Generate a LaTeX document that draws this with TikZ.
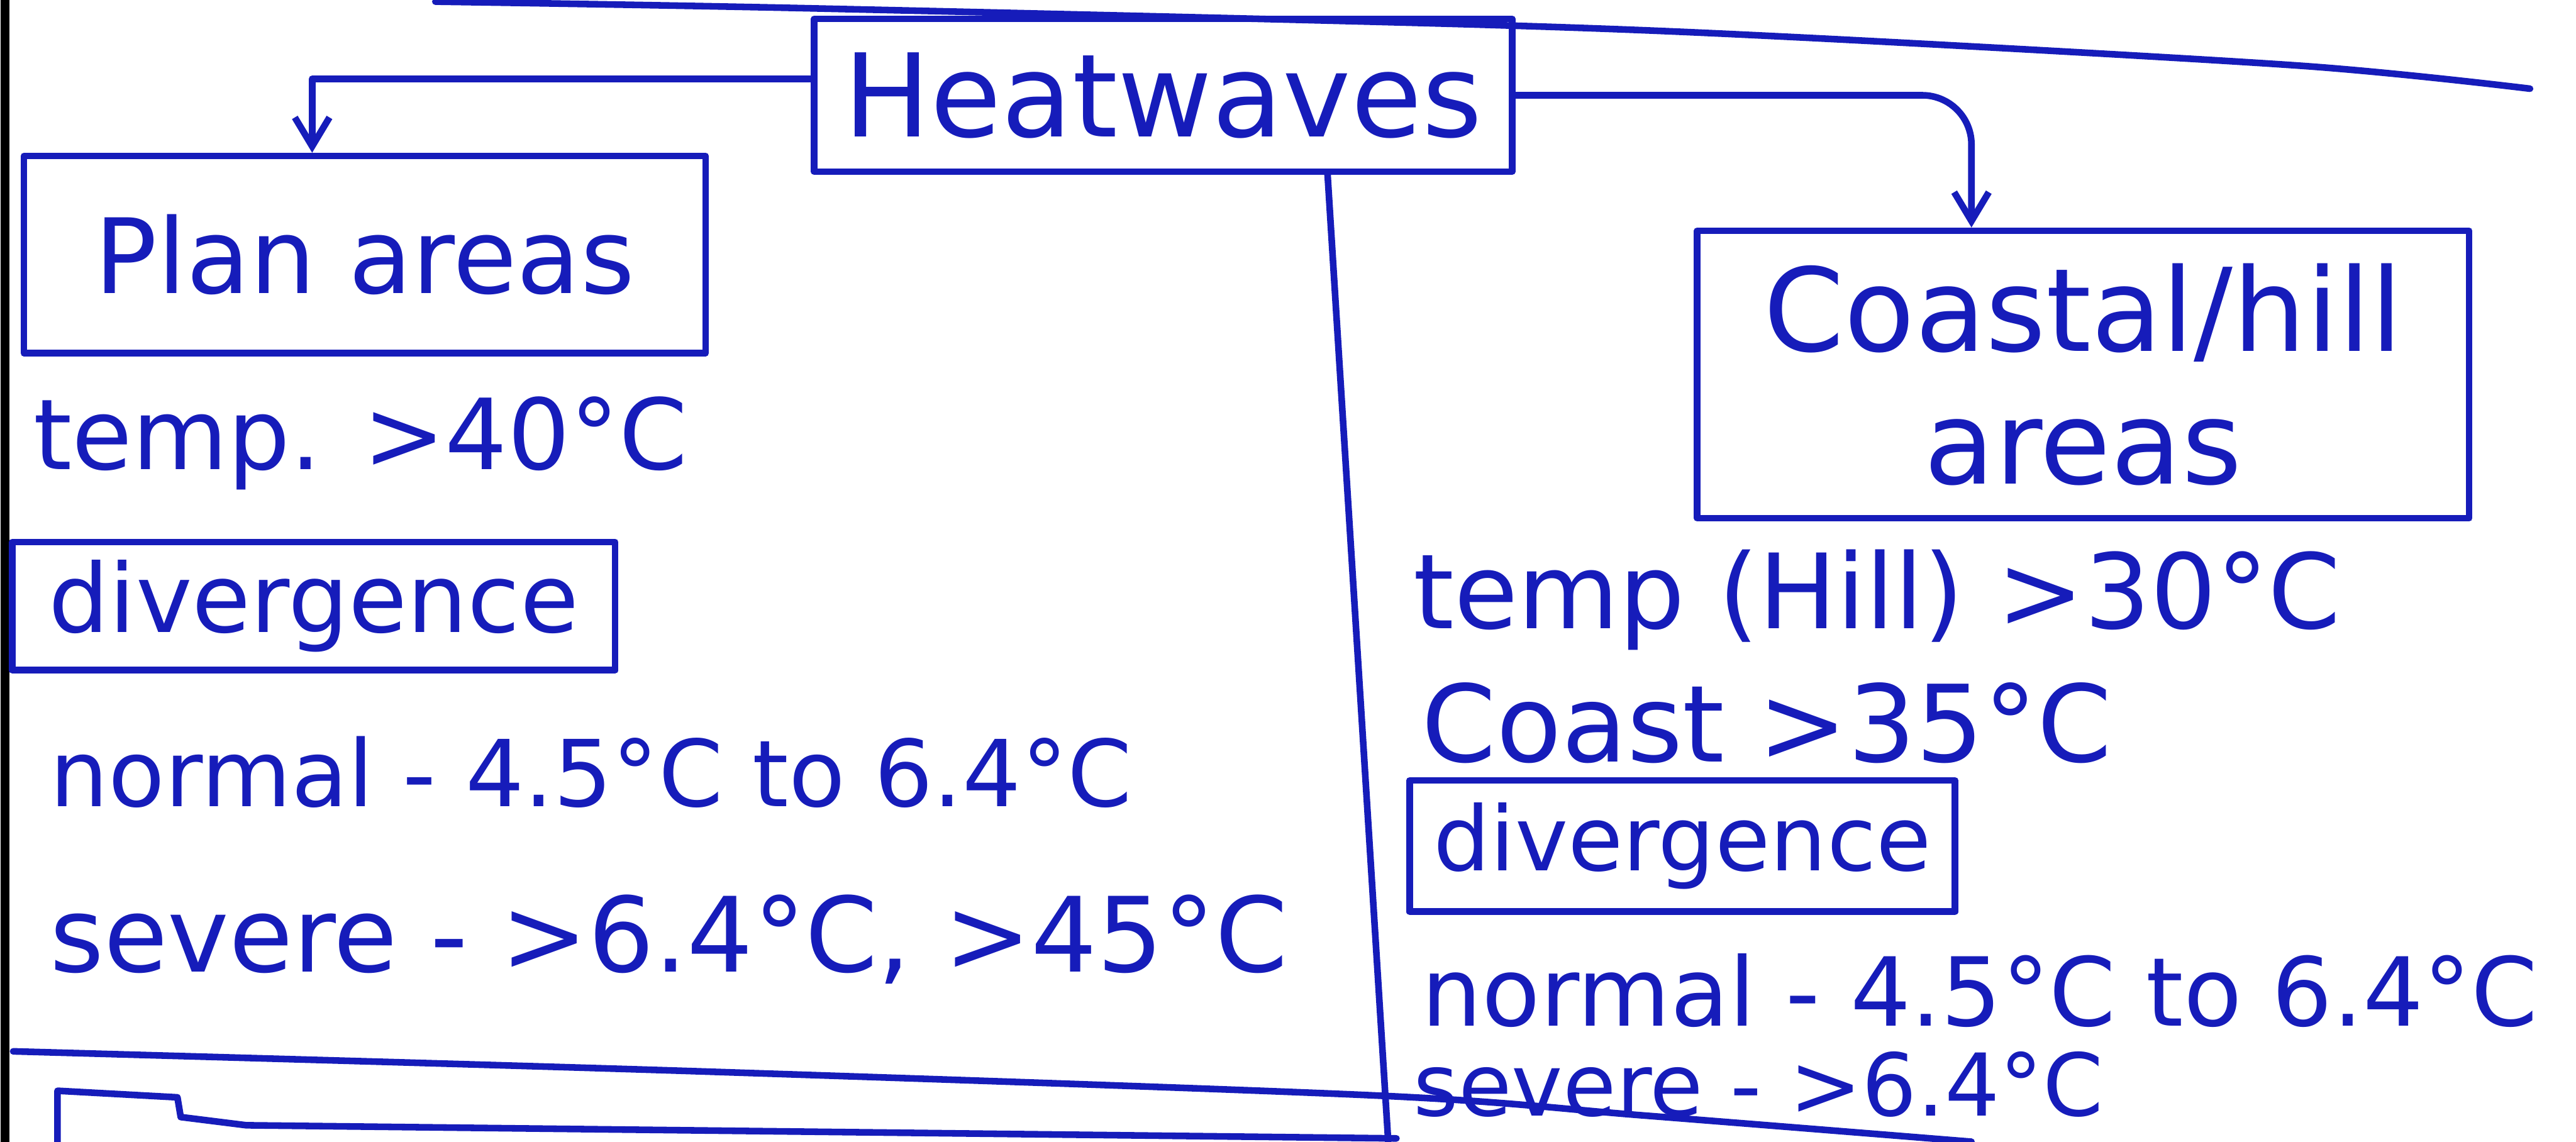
\documentclass[tikz,border=0pt]{standalone}
\usepackage{fontspec}
\setmainfont{DejaVu Sans}
\usetikzlibrary{positioning,arrows.meta}
\definecolor{ink}{RGB}{22,28,186}

\tikzset{
	pen/.style={draw=ink, line width=2.3pt, line cap=round, line join=round},
	box/.style={pen, text=ink, inner sep=0pt, align=center},
	note/.style={text=ink, anchor=west, inner sep=0pt, font=\fontsize{34}{40}\selectfont},
	link/.style={pen, -{Straight Barb[length=10pt,width=12pt]}},
}

\begin{document}
\begin{tikzpicture}[x=0.02cm, y=-0.02cm]
	\fill[white] (0,0) rectangle (1568,695);
	\useasboundingbox (0,0) rectangle (1568,695);
	% margin and page rules
	\draw[black, line width=3pt] (3,0) -- (3,695);
	\draw[pen] plot[smooth] coordinates {(265,1) (490,5) (900,15) (1100,23) (1400,40) (1540,54)};
	\draw[pen] plot[smooth] coordinates {(8,640) (420,652) (840,667) (1000,679) (1200,695)};
	\draw[pen] (808,105) -- (845,695);

	\node[box, minimum width=8.5cm, minimum height=1.86cm, font=\fontsize{40}{44}\selectfont] (heat) at (708,58) {Heatwaves};

	% plain areas
	\node[box, minimum width=8.3cm, minimum height=2.4cm, font=\fontsize{36}{40}\selectfont] (plan) at (222,155) {Plan areas};
	\node[note] (plantemp) at (20,270) {temp. >40°C};
	\node[box, minimum width=7.34cm, minimum height=1.56cm, font=\fontsize{33}{40}\selectfont] (plandiv) at (191,369) {divergence};
	\node[note, font=\fontsize{32}{40}\selectfont] (plannormal) at (30,470) {normal - 4.5°C to 6.4°C};
	\node[note, font=\fontsize{36}{40}\selectfont] (plansevere) at (30,572) {severe - >6.4°C, >45°C};

	% coastal and hill areas
	\node[box, minimum width=9.4cm, minimum height=3.5cm, font=\fontsize{40}{46}\selectfont] (coast) at (1268,228) {Coastal/hill\\areas};
	\node[note, font=\fontsize{36}{40}\selectfont] (hilltemp) at (860,365) {temp (Hill) >30°C};
	\node[note, font=\fontsize{37}{40}\selectfont] (coasttemp) at (865,440) {Coast >35°C};
	\node[box, minimum width=6.64cm, minimum height=1.6cm, font=\fontsize{31}{40}\selectfont] (coastdiv) at (1024,515) {divergence};
	\node[note, font=\fontsize{33}{40}\selectfont] (coastnormal) at (865,603) {normal - 4.5°C to 6.4°C};
	\node[note, font=\fontsize{30}{40}\selectfont] (coastsevere) at (860,660) {severe - >6.4°C};

	\draw[link] ([yshift=0.2cm]heat.west) -| ([xshift=-0.64cm]plan.north);
	\draw[link, rounded corners=0.6cm] (heat.east) -| ([xshift=-1.36cm]coast.north);

	% next box, cut at the page edge
	\draw[pen] (35,695) -- (35,664) -- (108,668) -- (110,680) -- (150,685) -- (850,693);
\end{tikzpicture}
\end{document}
